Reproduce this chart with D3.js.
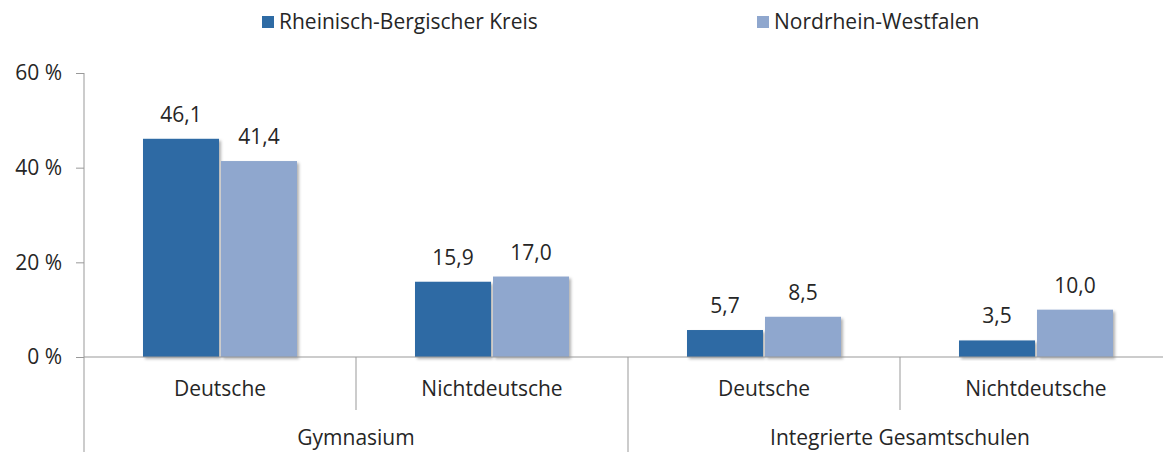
<!DOCTYPE html>
<html>
<head>
<meta charset="utf-8">
<script src="https://cdn.jsdelivr.net/npm/d3@7"></script>
<style>
  body { margin: 0; background: #fff; }
  text { font-family: "Open Sans", sans-serif; fill: #262626; }
</style>
</head>
<body>
<svg width="1163" height="452"></svg>
<script>
var groups = ["Gymnasium", "Integrierte Gesamtschulen"];
var categories = ["Deutsche", "Nichtdeutsche", "Deutsche", "Nichtdeutsche"];
var series = ["Rheinisch-Bergischer Kreis", "Nordrhein-Westfalen"];
var rbk = [46.1, 15.9, 5.7, 3.5];
var nrw = [41.4, 17.0, 8.5, 10.0];
var yTicks = [0, 20, 40, 60];

var colors = ["#2e6ba4", "#8fa7ce"];

var svg = d3.select("svg"),
    left = 84,
    bandW = 272,
    plotTop = 73,
    plotBottom = 357;

var defs = svg.append("defs");
var f = defs.append("filter").attr("id", "shadow")
    .attr("x", "-10%").attr("y", "-10%").attr("width", "130%").attr("height", "130%");
f.append("feDropShadow").attr("dx", 2).attr("dy", 2).attr("stdDeviation", 1.5)
    .attr("flood-color", "#000").attr("flood-opacity", 0.3);

var x = d3.scaleBand()
    .domain(d3.range(categories.length))
    .range([left, left + bandW * categories.length])
    .paddingInner(0).paddingOuter(0);

var y = d3.scaleLinear().domain([0, 60]).range([plotBottom, plotTop]);

var xs = d3.scaleBand().domain(series).range([0, 156]).paddingInner(0);
var groupOffset = (bandW - 156) / 2;

var rows = categories.map(function(c, i) {
  return { i: i, vals: [rbk[i], nrw[i]] };
});

// y axis
var ya = svg.append("g").attr("transform", "translate(" + left + ",0)")
  .call(d3.axisLeft(y).tickValues(yTicks).tickSize(8).tickPadding(14)
    .tickFormat(function(d) { return d + " %"; }));
ya.select(".domain").remove();
ya.selectAll("line").attr("stroke", "#999");
ya.selectAll("text").style("font-size", "21px").attr("fill", "#262626")
  .style("font-family", "'Open Sans', sans-serif");

svg.append("line").attr("x1", left).attr("x2", left)
  .attr("y1", plotTop).attr("y2", 452).attr("stroke", "#999");

// bars
var g = svg.selectAll(".cat").data(rows).enter().append("g")
  .attr("transform", function(d) { return "translate(" + (x(d.i) + groupOffset) + ",0)"; });

g.selectAll("rect").data(function(d) { return d.vals; }).enter().append("rect")
  .attr("x", function(v, j) { return xs(series[j]) + 1; })
  .attr("y", function(v) { return y(v); })
  .attr("width", xs.bandwidth() - 2)
  .attr("height", function(v) { return plotBottom - y(v); })
  .attr("fill", function(v, j) { return colors[j]; })
  .attr("filter", "url(#shadow)");

g.selectAll(".val").data(function(d) { return d.vals; }).enter().append("text")
  .attr("x", function(v, j) { return xs(series[j]) + xs.bandwidth() / 2; })
  .attr("y", function(v) { return y(v) - 17; })
  .attr("text-anchor", "middle")
  .style("font-size", "21px")
  .text(function(v) { return d3.format(".1f")(v).replace(".", ","); });

// x axis line
svg.append("line").attr("x1", left).attr("x2", 1163)
  .attr("y1", plotBottom).attr("y2", plotBottom).attr("stroke", "#999");

// dividers
[1, 3].forEach(function(i) {
  svg.append("line").attr("x1", x(i)).attr("x2", x(i))
    .attr("y1", plotBottom).attr("y2", 410).attr("stroke", "#999");
});
svg.append("line").attr("x1", x(2)).attr("x2", x(2))
  .attr("y1", plotBottom).attr("y2", 452).attr("stroke", "#999");

// category labels
svg.selectAll(".cl").data(categories).enter().append("text")
  .attr("x", function(d, i) { return x(i) + bandW / 2; })
  .attr("y", 396)
  .attr("text-anchor", "middle")
  .style("font-size", "21px")
  .text(function(d) { return d; });

svg.selectAll(".gl").data(groups).enter().append("text")
  .attr("x", function(d, i) { return x(i * 2) + bandW; })
  .attr("y", 445)
  .attr("text-anchor", "middle")
  .style("font-size", "21px")
  .text(function(d) { return d; });

// legend
var legX = [262, 757];
var leg = svg.selectAll(".leg").data(series).enter().append("g")
  .attr("transform", function(d, i) { return "translate(" + legX[i] + ",16)"; });
leg.append("rect").attr("width", 12).attr("height", 12)
  .attr("fill", function(d, i) { return colors[i]; });
leg.append("text").attr("x", 17).attr("y", 13)
  .style("font-size", "21px")
  .text(function(d) { return d; });
</script>
</body>
</html>
